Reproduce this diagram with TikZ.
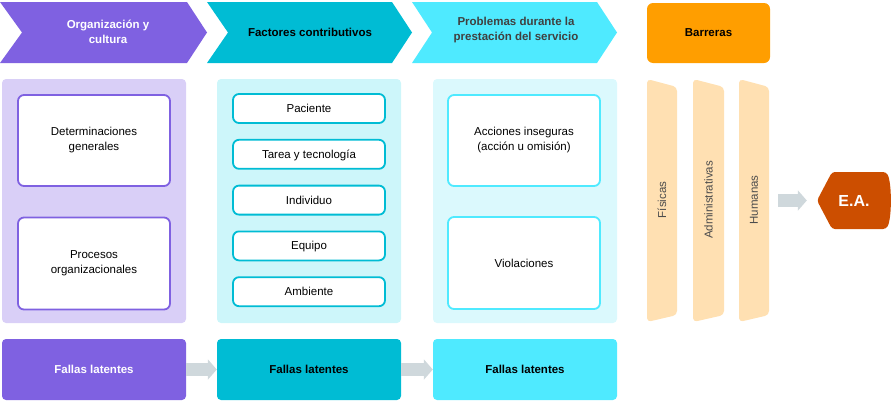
\documentclass[tikz,border=0pt]{standalone}
\usepackage{fontspec}
\setmainfont{Liberation Sans}
\usetikzlibrary{arrows.meta, positioning}

\begin{document}
\begin{tikzpicture}[
  x=1pt, y=-1pt,
  execute at begin picture={
    \definecolor{orgpurple}{HTML}{7F61E1}
    \definecolor{orglight}{HTML}{D9CFF7}
    \definecolor{factcyan}{HTML}{00BCD4}
    \definecolor{factlight}{HTML}{CDF6FA}
    \definecolor{probcyan}{HTML}{4FEAFF}
    \definecolor{problight}{HTML}{DBF9FD}
    \definecolor{barorange}{HTML}{FF9E00}
    \definecolor{barlight}{HTML}{FFE0B2}
    \definecolor{eared}{HTML}{CC4E00}
    \definecolor{arrowgray}{HTML}{CFD8DC}
  },
  font=\fontsize{11.5}{15}\selectfont,
  title/.style={
    font=\fontsize{11.5}{15}\selectfont\bfseries,
    align=center,
    inner sep=1pt
  },
  panel/.style={
    rounded corners=4pt,
    minimum width=184,
    minimum height=244,
    inner sep=0pt
  },
  item/.style={
    draw,
    line width=1.8pt,
    rounded corners=6pt,
    fill=white,
    align=center,
    minimum width=152
  },
  factor/.style={
    item,
    draw=factcyan,
    minimum height=29,
    text height=9.5pt,
    text depth=1.5pt
  },
  fallas/.style={
    title,
    rounded corners=4pt,
    minimum width=184,
    minimum height=61
  },
  blockarrow/.style={
    draw=arrowgray,
    line width=12.5pt,
    -{Triangle[length=9pt, width=20pt]}
  },
  striplabel/.style={rotate=90, text=black!70}
]
\useasboundingbox (0,0) rectangle (893,402);

% top chevrons
\fill[orgpurple] (0,2) -- (187,2) -- (207,32.5) -- (187,63) -- (0,63) -- (22,32.5) -- cycle;
\fill[factcyan] (207,2) -- (392,2) -- (412,32.5) -- (392,63) -- (207,63) -- (228,32.5) -- cycle;
\fill[probcyan] (412,2) -- (597,2) -- (617,32.5) -- (597,63) -- (412,63) -- (432,32.5) -- cycle;

\node[title, text=white] (orgtitle) at (108,32) {Organización y\\cultura};
\node[title] (facttitle) at (310,32) {Factores contributivos};
\node[title, text=black!75] (probtitle) at (516,30) {Problemas durante la\\prestación del servicio};

\node[title, fill=barorange, rounded corners=6pt, minimum width=123, minimum height=60]
  (barreras) at (708.5,33) {Barreras};

% panels
\node[panel, fill=orglight] (orgpanel) at (94,201) {};
\node[panel, fill=factlight] (factpanel) at (309,201) {};
\node[panel, fill=problight] (probpanel) at (525,201) {};

\node[item, draw=orgpurple, minimum height=91] (determ) at (94,140.5)
  {Determinaciones\\generales};
\node[item, draw=orgpurple, minimum height=92] (procesos) at (94,263.5)
  {Procesos\\organizacionales};

\node[factor] (paciente) at (309,108.5) {Paciente};
\node[factor, below=15pt of paciente] (tarea) {Tarea y tecnología};
\node[factor, below=15pt of tarea] (individuo) {Individuo};
\node[factor, below=15pt of individuo] (equipo) {Equipo};
\node[factor, below=15pt of equipo] (ambiente) {Ambiente};

\node[item, draw=probcyan, minimum height=91] (acciones) at (524,140.5)
  {Acciones inseguras\\(acción u omisión)};
\node[item, draw=probcyan, minimum height=92] (violaciones) at (524,263)
  {Violaciones};

% barrier strips
\fill[barlight, rounded corners=4pt] (647,79) -- (677,87) -- (677,315) -- (647,322) -- cycle;
\fill[barlight, rounded corners=4pt] (693,79) -- (724,87) -- (724,315) -- (693,322) -- cycle;
\fill[barlight, rounded corners=4pt] (739,79) -- (769,87) -- (769,315) -- (739,322) -- cycle;
\node[striplabel] (fisicas) at (662,200) {Físicas};
\node[striplabel] (admin) at (708.5,200) {Administrativas};
\node[striplabel] (humanas) at (754,200) {Humanas};
\coordinate (barend) at (769,200.5);

% adverse event
\fill[eared, rounded corners=3pt] (832,172) -- (886,172)
  .. controls (892,182) and (892,219) .. (886,229) -- (832,229) -- (817,200.5) -- cycle;
\node[font=\fontsize{16}{18}\selectfont\bfseries, text=white,
  minimum width=74, minimum height=57] (ea) at (854,200.5) {E.A.};

% bottom row
\node[fallas, fill=orgpurple, text=white] (latorg) at (94,369.5) {Fallas latentes};
\node[fallas, fill=factcyan] (latfact) at (309,369.5) {Fallas latentes};
\node[fallas, fill=probcyan] (latprob) at (525,369.5) {Fallas latentes};

\draw[blockarrow] (latorg.east) -- (latfact.west);
\draw[blockarrow] (latfact.east) -- (latprob.west);
\draw[blockarrow, shorten <=9pt, shorten >=10pt] (barend) -- (ea.west);

\end{tikzpicture}
\end{document}
